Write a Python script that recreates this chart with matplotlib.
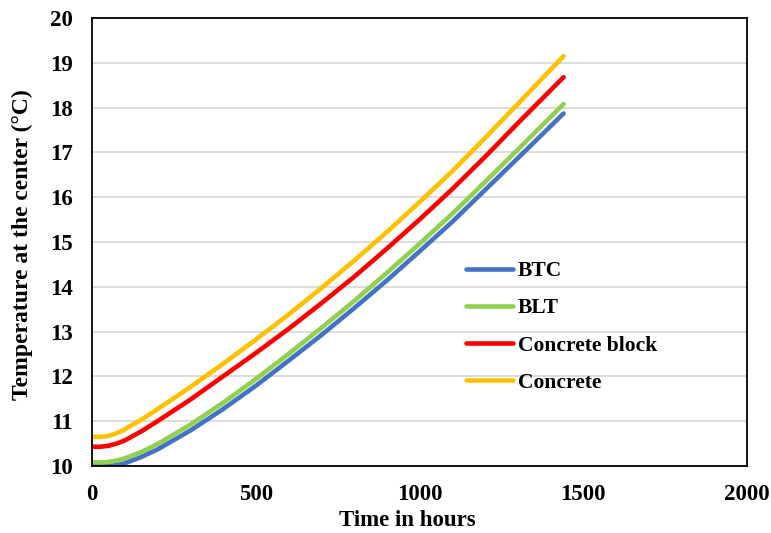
import numpy as np
import matplotlib
matplotlib.use('Agg')
import matplotlib.pyplot as plt

hours = [0, 25, 50, 75, 100, 150, 200, 300, 400, 500, 600, 700, 800, 900, 1000, 1100, 1200, 1300, 1440]
btc = [10.0, 10.0, 10.0, 10.02, 10.06, 10.2, 10.37, 10.79, 11.27, 11.79, 12.35, 12.92, 13.52, 14.14, 14.79, 15.45, 16.16, 16.87, 17.87]
blt = [10.08, 10.08, 10.09, 10.12, 10.17, 10.31, 10.49, 10.92, 11.41, 11.94, 12.5, 13.08, 13.68, 14.31, 14.96, 15.63, 16.34, 17.06, 18.08]
concrete_block = [10.43, 10.43, 10.45, 10.5, 10.57, 10.77, 11.0, 11.48, 12.0, 12.52, 13.06, 13.63, 14.22, 14.85, 15.5, 16.18, 16.9, 17.65, 18.68]
concrete = [10.65, 10.65, 10.67, 10.73, 10.82, 11.03, 11.27, 11.76, 12.28, 12.82, 13.38, 13.97, 14.58, 15.22, 15.89, 16.58, 17.32, 18.08, 19.15]

labels = ['BTC', 'BLT', 'Concrete block', 'Concrete']
colors = ['#4472C4', '#92D050', '#FF0000', '#FFC000']
series = [btc, blt, concrete_block, concrete]

plt.rcParams['font.family'] = ['Liberation Serif', 'DejaVu Serif']
plt.rcParams['font.weight'] = 'bold'

W, H = 771, 533
fig = plt.figure(figsize=(W / 100, H / 100), dpi=100)
ax = fig.add_axes([92 / W, 1 - 466 / H, (747 - 92) / W, (466 - 18) / H])

for y, lab, col in zip(series, labels, colors):
    ax.plot(hours, y, color=col, lw=3.3, label=lab, solid_capstyle='round')

ax.set_xlim(0, 2000)
ax.set_ylim(10, 20)
ax.set_xticks(np.arange(0, 2001, 500))
ax.set_yticks(np.arange(10, 21, 1))
ax.yaxis.grid(True, color='#d9d9d9', lw=1.3)
ax.set_axisbelow(True)
ax.tick_params(axis='both', length=0, labelsize=16.5)
ax.tick_params(axis='x', pad=13)
ax.tick_params(axis='y', pad=14)
for s in ax.spines.values():
    s.set_color('black')
    s.set_linewidth(1.3)

fig.text(407 / W, 1 - 521 / H, 'Time in hours', ha='center', va='center',
         fontsize=16.5, fontweight='bold')
fig.text(22 / W, 1 - 245 / H, 'Temperature at the center (°C)', ha='center', va='center',
         rotation=90, fontsize=17, fontweight='bold')

leg = ax.legend(loc='upper left', bbox_to_anchor=(466 / W, 1 - 261 / H), bbox_transform=fig.transFigure,
                frameon=False, fontsize=15.5, handlelength=2.2, handletextpad=0.2,
                labelspacing=0.8, borderpad=0, borderaxespad=0)

fig.savefig('out.png', dpi=100)
